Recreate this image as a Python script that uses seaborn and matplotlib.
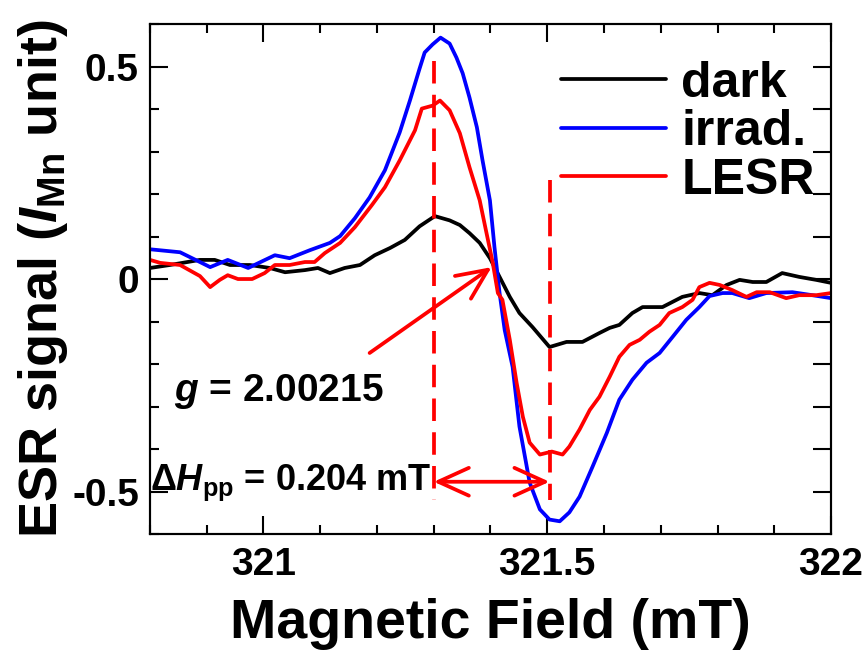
import matplotlib
matplotlib.use('Agg')
import matplotlib.pyplot as plt
import seaborn as sns
import pandas as pd
import numpy as np
from matplotlib.ticker import MultipleLocator

# ---------------- data ----------------
dark_x = [320.800, 320.835, 320.888, 320.914, 320.941, 320.976, 321.011, 321.038, 321.073,
          321.096, 321.117, 321.143, 321.170, 321.196, 321.223, 321.249, 321.275, 321.302,
          321.328, 321.346, 321.363, 321.381, 321.399, 321.416, 321.434, 321.451, 321.474,
          321.504, 321.534, 321.562, 321.592, 321.610, 321.627, 321.650, 321.668, 321.703,
          321.738, 321.768, 321.791, 321.816, 321.839, 321.862, 321.886, 321.914, 321.944,
          321.974, 322.000]
dark_y = [0.026, 0.033, 0.045, 0.045, 0.033, 0.033, 0.026, 0.016, 0.021,
          0.026, 0.014, 0.026, 0.033, 0.056, 0.073, 0.092, 0.124, 0.148,
          0.138, 0.127, 0.108, 0.085, 0.049, 0.005, -0.042, -0.080, -0.113,
          -0.160, -0.148, -0.148, -0.127, -0.115, -0.108, -0.080, -0.066, -0.066,
          -0.042, -0.033, -0.038, -0.014, -0.002, -0.007, -0.007, 0.014, 0.005,
          -0.002, -0.009]

irrad_x = [320.800, 320.853, 320.888, 320.906, 320.937, 320.973, 321.020, 321.046, 321.082,
           321.117, 321.135, 321.161, 321.187, 321.214, 321.240, 321.258, 321.275, 321.284,
           321.298, 321.312, 321.328, 321.340, 321.351, 321.363, 321.376, 321.386, 321.399,
           321.407, 321.416, 321.425, 321.439, 321.451, 321.469, 321.487, 321.504, 321.522,
           321.539, 321.557, 321.580, 321.605, 321.627, 321.650, 321.675, 321.698, 321.721,
           321.745, 321.768, 321.786, 321.809, 321.826, 321.856, 321.886, 321.932, 321.967,
           322.000]
irrad_y = [0.070, 0.063, 0.040, 0.028, 0.045, 0.026, 0.056, 0.049, 0.068,
           0.085, 0.101, 0.143, 0.192, 0.256, 0.345, 0.420, 0.495, 0.533,
           0.552, 0.568, 0.554, 0.521, 0.484, 0.427, 0.357, 0.279, 0.185,
           0.075, -0.033, -0.120, -0.207, -0.347, -0.479, -0.542, -0.566, -0.570,
           -0.549, -0.512, -0.441, -0.362, -0.284, -0.237, -0.197, -0.174, -0.136,
           -0.096, -0.066, -0.040, -0.033, -0.033, -0.045, -0.033, -0.031, -0.038,
           -0.045]

lesr_x = [320.800, 320.818, 320.853, 320.888, 320.906, 320.923, 320.937, 320.955, 320.980,
          321.002, 321.020, 321.046, 321.073, 321.090, 321.108, 321.135, 321.161, 321.191,
          321.214, 321.240, 321.267, 321.279, 321.298, 321.311, 321.328, 321.346, 321.363,
          321.381, 321.393, 321.404, 321.413, 321.421, 321.434, 321.446, 321.457, 321.469,
          321.487, 321.508, 321.527, 321.539, 321.557, 321.575, 321.592, 321.610, 321.627,
          321.645, 321.663, 321.680, 321.698, 321.715, 321.738, 321.756, 321.768, 321.786,
          321.804, 321.826, 321.851, 321.869, 321.892, 321.921, 321.944, 321.974, 322.000]
lesr_y = [0.045, 0.038, 0.033, 0.007, -0.019, -0.002, 0.009, 0.000, 0.000,
          0.014, 0.033, 0.033, 0.040, 0.040, 0.061, 0.085, 0.122, 0.174,
          0.216, 0.279, 0.350, 0.401, 0.408, 0.420, 0.397, 0.343, 0.263,
          0.185, 0.108, 0.038, -0.033, -0.049, -0.143, -0.244, -0.324, -0.385,
          -0.413, -0.406, -0.413, -0.394, -0.354, -0.308, -0.277, -0.230, -0.183,
          -0.155, -0.143, -0.124, -0.108, -0.080, -0.066, -0.049, -0.019, -0.009,
          -0.014, -0.026, -0.042, -0.031, -0.031, -0.045, -0.038, -0.038, -0.033]

series_names = ['dark', 'irrad.', 'LESR']
series_colors = ['#000000', '#0000ff', '#ff0000']

peak_fields = [321.300, 321.504]       # positions of the dashed markers
peak_tops = [0.514, 0.232]
peak_bottom = -0.519
g_arrow_from = (321.187, -0.174)
g_arrow_to = (321.402, 0.028)
dh_arrow_y = -0.477
g_text = r'$g$ = 2.00215'
dh_text = r'Δ$H_{\rm pp}$ = 0.204 mT'

x_ticks = [321, 321.5, 322]
x_ticklabels = ['321', '321.5', '322']
y_ticks = [-0.5, 0, 0.5]
y_ticklabels = ['-0.5', '0', '0.5']

# ---------------- styling ----------------
sns.set_theme(style='ticks')
plt.rcParams['font.family'] = ['Liberation Sans', 'DejaVu Sans']
plt.rcParams['font.weight'] = 'bold'
plt.rcParams['axes.labelweight'] = 'bold'
plt.rcParams['mathtext.fontset'] = 'custom'
plt.rcParams['mathtext.rm'] = 'Liberation Sans:bold'
plt.rcParams['mathtext.it'] = 'Liberation Sans:italic:bold'
plt.rcParams['mathtext.bf'] = 'Liberation Sans:bold'
plt.rcParams['axes.edgecolor'] = 'black'
plt.rcParams['axes.linewidth'] = 1.5
plt.rcParams['xtick.color'] = 'black'
plt.rcParams['ytick.color'] = 'black'
plt.rcParams['xtick.labelcolor'] = 'black'
plt.rcParams['ytick.labelcolor'] = 'black'
plt.rcParams['text.color'] = 'black'
plt.rcParams['axes.labelcolor'] = 'black'

frames = []
for name, xs, ys in zip(series_names, [dark_x, irrad_x, lesr_x], [dark_y, irrad_y, lesr_y]):
    frames.append(pd.DataFrame({'field': xs, 'signal': ys, 'sample': name}))
df = pd.concat(frames, ignore_index=True)

fig = plt.figure(figsize=(8.65, 6.53), dpi=100)
ax = fig.add_axes([0.1734, 0.1822, 0.7873, 0.781])

LW = 2.7
sns.lineplot(data=df, x='field', y='signal', hue='sample', hue_order=series_names,
             palette=dict(zip(series_names, series_colors)), sort=False, estimator=None,
             linewidth=LW, ax=ax)

ax.set_xlim(320.8, 322.0)
ax.set_ylim(-0.6, 0.6)
ax.set_xticks(x_ticks)
ax.set_xticklabels(x_ticklabels)
ax.set_yticks(y_ticks)
ax.set_yticklabels(y_ticklabels)
ax.xaxis.set_minor_locator(MultipleLocator(0.1))
ax.yaxis.set_minor_locator(MultipleLocator(0.1))
ax.tick_params(which='both', direction='in', top=True, right=False, width=1.5)
ax.tick_params(which='major', length=13, labelsize=28)
ax.tick_params(axis='x', which='major', pad=9)
ax.tick_params(axis='y', which='major', pad=8)
ax.tick_params(which='minor', length=6.5)
for lab in ax.get_xticklabels() + ax.get_yticklabels():
    lab.set_fontweight('bold')
    lab.set_color('black')

# right-side ticks: all long
ax2 = ax.twinx()
ax2.set_ylim(-0.6, 0.6)
ax2.set_yticks(np.arange(-5, 6) / 10)
ax2.tick_params(axis='y', direction='in', length=13, width=1.5, labelright=False)
ax2.grid(False)

ax.set_xlabel('Magnetic Field (mT)', fontsize=40, fontweight='bold', color='black')
ax.set_ylabel(r'ESR signal ($I_{\rm Mn}$ unit)', fontsize=39, fontweight='bold', color='black')
ax.xaxis.set_label_coords(0.5, -0.125)
ax.yaxis.set_label_coords(-0.118, 0.5)

# dashed markers
for xf, yt in zip(peak_fields, peak_tops):
    ax.plot([xf, xf], [yt, peak_bottom], color='red', lw=LW, dashes=(6, 3), zorder=5)

ax.annotate('', xy=g_arrow_to, xytext=g_arrow_from,
            arrowprops=dict(arrowstyle='->,head_length=1.1,head_width=0.5', color='red',
                            lw=LW, shrinkA=0, shrinkB=0, mutation_scale=20), zorder=6)
ax.annotate('', xy=(peak_fields[1], dh_arrow_y), xytext=(peak_fields[0], dh_arrow_y),
            arrowprops=dict(arrowstyle='<->,head_length=1.1,head_width=0.5', color='red',
                            lw=LW, shrinkA=0, shrinkB=0, mutation_scale=20), zorder=6)

ax.text(320.843, -0.265, g_text, fontsize=28, fontweight='bold', va='center', ha='left',
        color='black')
ax.text(320.800, -0.48, dh_text, fontsize=26, fontweight='bold', va='center', ha='left',
        color='black')

leg = ax.legend(frameon=False, loc='upper right', bbox_to_anchor=(0.976, 0.928),
                fontsize=36, handlelength=2.1, handletextpad=0.3, labelspacing=0.05,
                borderpad=0, borderaxespad=0)
for t in leg.get_texts():
    t.set_fontweight('bold')
    t.set_color('black')
for l in leg.get_lines():
    l.set_linewidth(LW)

fig.savefig('out.png', dpi=100)
